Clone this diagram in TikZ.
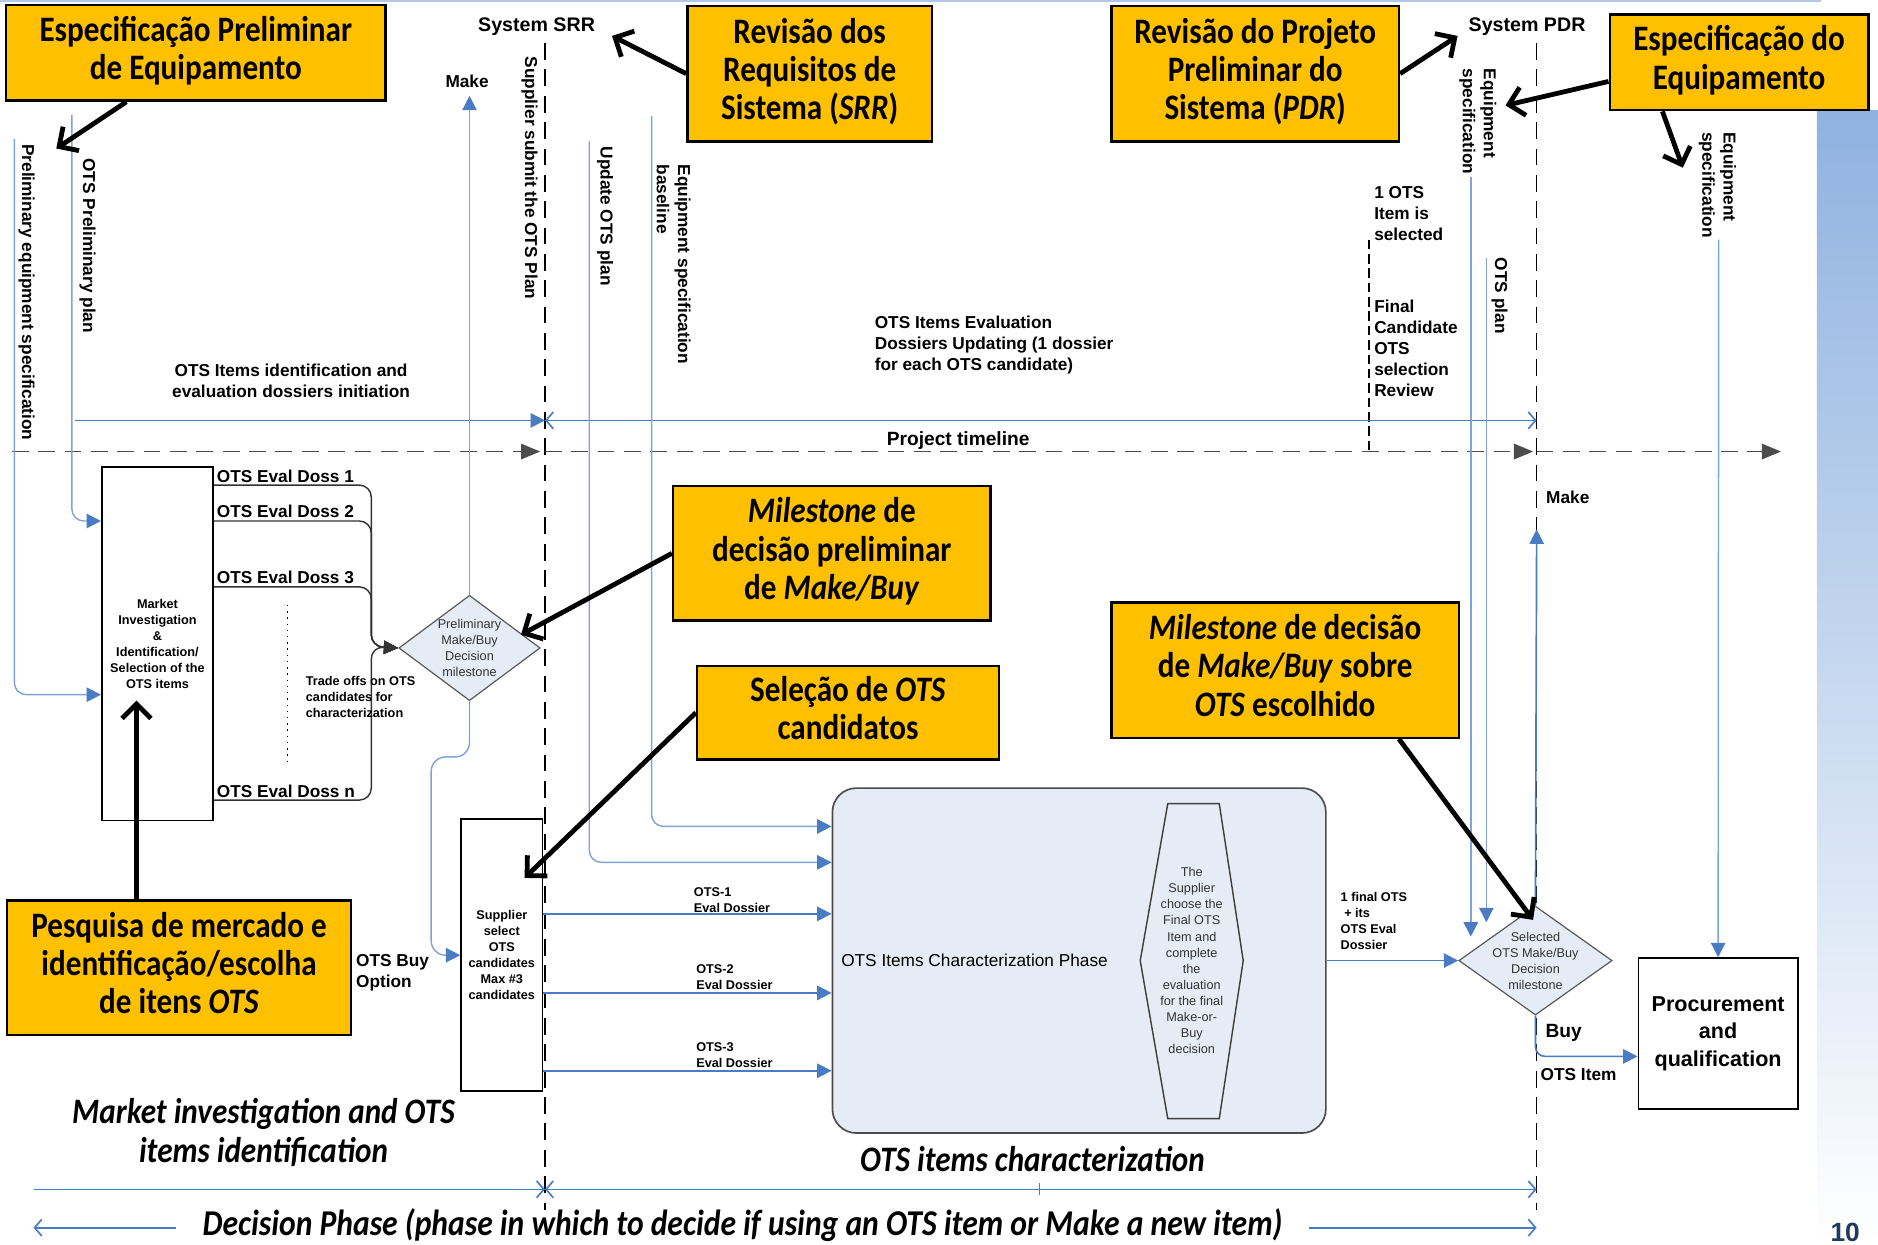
\documentclass[tikz,border=0pt]{standalone}
\usepackage{fontspec}
\usepackage{graphicx}
\setmainfont{Liberation Sans}
\newfontfamily\callfont{Carlito}
\usetikzlibrary{shapes.geometric,arrows.meta}
\definecolor{callyellow}{HTML}{FFC000}
\definecolor{flowblue}{HTML}{4A7CC4}
\definecolor{speclight}{HTML}{7FA3D9}
\definecolor{phasefill}{HTML}{E5ECF6}
\definecolor{stripblue}{HTML}{8FB2E0}
\definecolor{pagenavy}{HTML}{1F3A60}
\newcommand{\stretchtext}[1]{\scalebox{1}[1.15]{\begin{tabular}{@{}c@{}}#1\end{tabular}}}

\begin{document}
\begin{tikzpicture}[x=0.5pt,y=-0.5pt]
	\tikzstyle{yellownote}=[draw=black,line width=1pt,fill=callyellow,inner sep=0pt,font=\callfont\bfseries\fontsize{13}{13.9}\selectfont]
	\tikzstyle{pointer}=[line width=2pt,-{Straight Barb[length=6pt,width=12pt]}]
	\tikzstyle{lbl}=[inner sep=1pt,font=\bfseries\fontsize{7.2}{8.8}\selectfont]
	\tikzstyle{tinytxt}=[inner sep=0pt,align=center,font=\bfseries\fontsize{5.3}{6.7}\selectfont]
	\tikzstyle{tinyreg}=[inner sep=0pt,align=center,text=black!80,font=\fontsize{5.3}{6.7}\selectfont]
	\tikzstyle{flow}=[draw=flowblue,line width=0.7pt]
	\tikzstyle{spec}=[draw=speclight,line width=0.6pt]
	\tikzstyle{tipblue}=[-{Triangle[length=6pt,width=6pt,color=flowblue]}]
	\tikzstyle{barb}=[draw=flowblue,line width=0.7pt]
	\tikzstyle{gate}=[draw=black,line width=0.6pt,dash pattern=on 7pt off 4pt]
	\tikzstyle{doss}=[draw=black!80,line width=0.6pt,rounded corners=5pt,-{Triangle[length=6pt,width=5.5pt]}]
	\tikzstyle{milestone}=[diamond,draw=black!65,fill=phasefill,line width=0.5pt,inner sep=0pt,minimum width=59pt,minimum height=44pt]
	\tikzstyle{phaselbl}=[inner sep=0pt,font=\callfont\bfseries\itshape\fontsize{13}{13.9}\selectfont]
	\tikzstyle{boxed}=[draw,line width=0.7pt,inner sep=0pt]

	\useasboundingbox (0,0) rectangle (1568,1039);
	\shade[top color=stripblue,bottom color=white] (1517,92) rectangle (1568,1039);
	\draw[speclight!60,line width=1pt] (0,1) -- (1520,1);
	\node[anchor=south west,inner sep=0pt,text=pagenavy,font=\bfseries\fontsize{11}{11}\selectfont] (pagenum) at (1528,1037) {10};

	\node[lbl,font=\bfseries\fontsize{8.2}{9}\selectfont] (srr) at (448,22) {System SRR};
	\node[lbl,font=\bfseries\fontsize{8.2}{9}\selectfont] (pdr) at (1275,22) {System PDR};
	\draw[gate] (455,36) -- (455,1010);
	\draw[gate] (1283,36) -- (1283,1010);

	\draw[gate,draw=black!70,-{Triangle[length=8pt,width=6.5pt]}] (10,377) -- (451,377);
	\draw[gate,draw=black!70,-{Triangle[length=8pt,width=6.5pt]}] (455,377) -- (1280,377);
	\draw[gate,draw=black!70,-{Triangle[length=8pt,width=6.5pt]}] (1283,377) -- (1487,377);
	\node[lbl,anchor=south,font=\bfseries\fontsize{8}{9}\selectfont] (tline) at (800,378) {Project timeline};
	\draw[line width=0.5pt,dash pattern=on 4pt off 2pt] (1143,200) -- (1143,377);

	\node[boxed,minimum width=46.5pt,minimum height=147.5pt] (mkt) at (131.5,537.5) {};
	\node[tinytxt] (mkttxt) at (mkt) {Market\\Investigation\\\&\\Identification/\\Selection of the\\OTS items};
	\node[milestone] (pmb) at (392,541) {};
	\node[tinyreg] (pmbtxt) at (pmb) {Preliminary\\Make/Buy\\Decision\\milestone};
	\node[boxed,minimum width=34pt,minimum height=113.5pt] (sup) at (419,797.5) {};
	\node[tinytxt] (suptxt) at (sup) {Supplier\\select\\OTS\\candidates\\Max \#3\\candidates};
	\node[draw=black!70,fill=phasefill,rounded corners=10pt,line width=0.7pt,minimum width=206pt,minimum height=144pt] (chr) at (901,802) {};
	\node[anchor=west,inner sep=0pt,font=\fontsize{7.2}{8}\selectfont] (chrtxt) at (702,802) {OTS Items Characterization Phase};
	\draw[draw=black!75,fill=phasefill,line width=0.6pt] (975,671) -- (1018,671) -- (1038,802) -- (1018,934) -- (975,934) -- (952,802) -- cycle;
	\node[tinyreg] (fintxt) at (995,802) {The\\Supplier\\choose the\\Final OTS\\Item and\\complete\\the\\evaluation\\for the final\\Make-or-\\Buy\\decision};
	\node[milestone,minimum width=64pt,minimum height=45.5pt] (smb) at (1282,802) {};
	\node[tinyreg] (smbtxt) at (smb) {Selected\\OTS Make/Buy\\Decision\\milestone};
	\node[boxed,line width=0.8pt,minimum width=66.5pt,minimum height=63pt,align=center,font=\bfseries\fontsize{9}{11.5}\selectfont] (prq) at (1434.5,863) {Procurement\\and\\qualification};

	\coordinate (pes) at (12,116);
	\coordinate (opp) at (60,96);
	\coordinate (initstart) at (63,351);
	\coordinate (srrmid) at (455,351);
	\coordinate (pdrmid) at (1283,351);
	\coordinate (makeup) at (392,80);
	\coordinate (updtop) at (492,118);
	\coordinate (basetop) at (544,97);
	\coordinate (eq1top) at (1228,148);
	\coordinate (eq1end) at (1228,782);
	\coordinate (otsptop) at (1241,215);
	\coordinate (otspend) at (1241,770);
	\coordinate (eq2top) at (1435,200);
	\coordinate (makeright) at (1283,442);
	\coordinate (merge) at (310,540);
	\coordinate (jog) at (360,632);

	\draw[spec,tipblue,rounded corners=5pt] (pes) |- ([yshift=-21.25pt]mkt.west);
	\draw[spec,tipblue,rounded corners=5pt] (opp) |- ([yshift=51.25pt]mkt.west);
	\node[lbl,rotate=-90,anchor=south west] (pestxt) at (13,118) {Preliminary equipment specification};
	\node[lbl,rotate=-90,anchor=south west] (opptxt) at (64,130) {OTS Preliminary plan};
	\draw[flow,-{Triangle[length=6pt,width=6pt]}] (initstart) -- (srrmid);
	\draw[barb,{Straight Barb[length=3pt,width=7pt]}-{Straight Barb[length=3pt,width=7pt]}] (srrmid) -- (pdrmid);
	\node[lbl,align=center] (initlbl) at (243,318) {OTS Items identification and\\evaluation dossiers initiation};
	\node[lbl,align=left,anchor=west] (updlbl) at (728,288) {OTS Items Evaluation\\Dossiers Updating (1 dossier\\for each OTS candidate)};

	\draw[spec,tipblue] (pmb.north) -- (makeup);
	\node[lbl] (maketxt) at (390,68) {Make};
	\node[lbl,rotate=-90,anchor=south west] (subtxt) at (433,45) {Supplier submit the OTS Plan};
	\draw[spec,tipblue,rounded corners=5pt] (updtop) |- ([yshift=41pt]chr.west);
	\node[lbl,rotate=-90,anchor=south west] (updtxt) at (496,120) {Update OTS plan};
	\draw[spec,tipblue,rounded corners=5pt] (basetop) |- ([yshift=56pt]chr.west);
	\node[lbl,rotate=-90,anchor=south west,align=left] (basetxt) at (546,135) {Equipment specification\\baseline};

	\node[lbl,align=left,anchor=north west] (seltxt) at (1145,153) {1 OTS\\Item is\\selected};
	\node[lbl,align=left,anchor=north west] (revtxt) at (1145,248) {Final\\Candidate\\OTS\\selection\\Review};
	\draw[spec,tipblue] (eq1top) -- (eq1end);
	\node[lbl,rotate=-90,anchor=south west,align=left] (eq1txt) at (1216,55) {Equipment\\specification};
	\draw[spec,tipblue] (otsptop) -- (otspend);
	\node[lbl,rotate=-90,anchor=south west] (otsptxt) at (1243,213) {OTS plan};
	\draw[spec,tipblue] (eq2top) -- (prq.north);
	\node[lbl,rotate=-90,anchor=south west,align=left] (eq2txt) at (1416,108) {Equipment\\specification};

	\draw[doss] ([yshift=66.25pt]mkt.east) -| (merge) -- (pmb.west);
	\draw[doss] ([yshift=51.25pt]mkt.east) -| (merge) -- (pmb.west);
	\draw[doss] ([yshift=23.75pt]mkt.east) -| (merge) -- (pmb.west);
	\draw[doss] ([yshift=-65.25pt]mkt.east) -| (merge) -- (pmb.west);
	\node[lbl,anchor=south west] (d1) at ([yshift=66.25pt]mkt.east) {OTS Eval Doss 1};
	\node[lbl,anchor=south west] (d2) at ([yshift=51.25pt]mkt.east) {OTS Eval Doss 2};
	\node[lbl,anchor=south west] (d3) at ([yshift=23.75pt]mkt.east) {OTS Eval Doss 3};
	\node[lbl,anchor=south west] (dn) at ([yshift=-65.25pt]mkt.east) {OTS Eval Doss n};
	\draw[line width=0.6pt,dotted] (240,505) -- (240,640);
	\node[tinytxt,align=left,anchor=west] (tradetxt) at (255,582) {Trade offs on OTS\\candidates for\\characterization};

	\draw[spec,tipblue,rounded corners=6pt] (pmb.south) |- (jog) |- (sup.west);
	\node[lbl,align=left,anchor=west] (buyopt) at (295,812) {OTS Buy\\Option};

	\coordinate (o1) at ([yshift=17.25pt]sup.east);
	\coordinate (o2) at ([yshift=-15.75pt]sup.east);
	\coordinate (o3) at ([yshift=-48.25pt]sup.east);
	\draw[flow,tipblue] (o1) -- (o1 -| chr.west);
	\draw[flow,tipblue] (o2) -- (o2 -| chr.west);
	\draw[flow,tipblue] (o3) -- (o3 -| chr.west);
	\node[tinytxt,align=left,anchor=south west] (o1txt) at (579,762) {OTS-1\\Eval Dossier};
	\node[tinytxt,align=left,anchor=south west] (o2txt) at (581,827) {OTS-2\\Eval Dossier};
	\node[tinytxt,align=left,anchor=south west] (o3txt) at (581,892) {OTS-3\\Eval Dossier};

	\draw[flow,tipblue] (chr.east) -- (smb.west);
	\node[tinytxt,align=left,anchor=west] (finaltxt) at (1119,769) {1 final OTS\\\ + its\\OTS Eval\\Dossier};
	\draw[flow,tipblue] (smb.north) -- (makeright);
	\node[lbl] (make2txt) at (1309,415) {Make};
	\draw[flow,tipblue,rounded corners=4pt] (smb.south) |- ([yshift=-9.5pt]prq.west);
	\node[lbl,anchor=west,font=\bfseries\fontsize{8}{9}\selectfont] (buytxt) at (1288,862) {Buy};
	\node[lbl,anchor=west] (itemtxt) at (1284,897) {OTS Item};

	\node[phaselbl] (mkphase) at (220,948) {\stretchtext{Market investigation and OTS\\items identification}};
	\node[phaselbl] (chphase) at (862,972) {\stretchtext{OTS items characterization}};
	\coordinate (b0) at (28,993);
	\coordinate (b1) at (455,993);
	\coordinate (b2) at (1283,993);
	\draw[barb,-{Straight Barb[length=3pt,width=7pt]}] (b0) -- (b1);
	\draw[barb,{Straight Barb[length=3pt,width=7pt]}-{Straight Barb[length=3pt,width=7pt]}] (b1) -- (b2);
	\draw[barb,line width=0.5pt] (868,988) -- (868,998);
	\node[phaselbl,font=\callfont\bfseries\itshape\fontsize{13.2}{14}\selectfont] (decphase) at (620,1025) {\stretchtext{Decision Phase (phase in which to decide if using an OTS item or Make a new item)}};
	\coordinate (e0) at (28,1025);
	\coordinate (e1) at (1283,1025);
	\draw[barb,{Straight Barb[length=3pt,width=7pt]}-] (e0) -- ([xshift=-11pt]decphase.west);
	\draw[barb,-{Straight Barb[length=3pt,width=7pt]}] ([xshift=11pt]decphase.east) -- (e1);

	\node[yellownote,minimum width=158.5pt,minimum height=40pt] (prelspec) at (163.5,44) {\stretchtext{Especificação Preliminar\\de Equipamento}};
	\node[yellownote,minimum width=102pt,minimum height=56.5pt] (srrnote) at (676,61.5) {\stretchtext{Revisão dos\\Requisitos de\\Sistema (\textit{SRR})}};
	\node[yellownote,minimum width=120pt,minimum height=56.5pt] (pdrnote) at (1048,61.5) {\stretchtext{Revisão do Projeto\\Preliminar do\\Sistema (\textit{PDR})}};
	\node[yellownote,minimum width=108pt,minimum height=40pt] (eqspec) at (1452,52) {\stretchtext{Especificação do\\Equipamento}};
	\node[yellownote,minimum width=132.5pt,minimum height=56pt] (prelmile) at (694.5,462) {\stretchtext{\textit{Milestone} de\\decisão preliminar\\de \textit{Make/Buy}}};
	\node[yellownote,minimum width=126pt,minimum height=39pt] (selnote) at (708,595) {\stretchtext{Seleção de \textit{OTS}\\candidatos}};
	\node[yellownote,minimum width=145pt,minimum height=56.5pt] (finalmile) at (1073,559.5) {\stretchtext{\textit{Milestone} de decisão\\de \textit{Make/Buy} sobre\\\textit{OTS} escolhido}};
	\node[yellownote,minimum width=143.5pt,minimum height=56pt] (marknote) at (149.5,808) {\stretchtext{Pesquisa de mercado e\\identificação/escolha\\de itens \textit{OTS}}};

	\coordinate (p1) at (47,124);
	\coordinate (p2) at (511,30);
	\coordinate (p3) at (1217,30);
	\coordinate (p4a) at (1257,88);
	\coordinate (p4b) at (1405,140);
	\coordinate (p5) at (435,530);
	\coordinate (p6) at (438,733);
	\coordinate (p7) at (1280,768);
	\coordinate (p8) at (114,585);
	\draw[pointer] ([xshift=-29pt]prelspec.south) -- (p1);
	\draw[pointer] (srrnote.west) -- (p2);
	\draw[pointer] (pdrnote.east) -- (p3);
	\draw[pointer] ([yshift=-8pt]eqspec.west) -- (p4a);
	\draw[pointer] ([xshift=-32pt]eqspec.south) -- (p4b);
	\draw[pointer] (prelmile.west) -- (p5);
	\draw[pointer] (selnote.west) -- (p6);
	\draw[pointer] ([xshift=47.5pt]finalmile.south) -- (p7);
	\draw[pointer] ([xshift=-17.75pt]marknote.north) -- (p8);
\end{tikzpicture}
\end{document}
